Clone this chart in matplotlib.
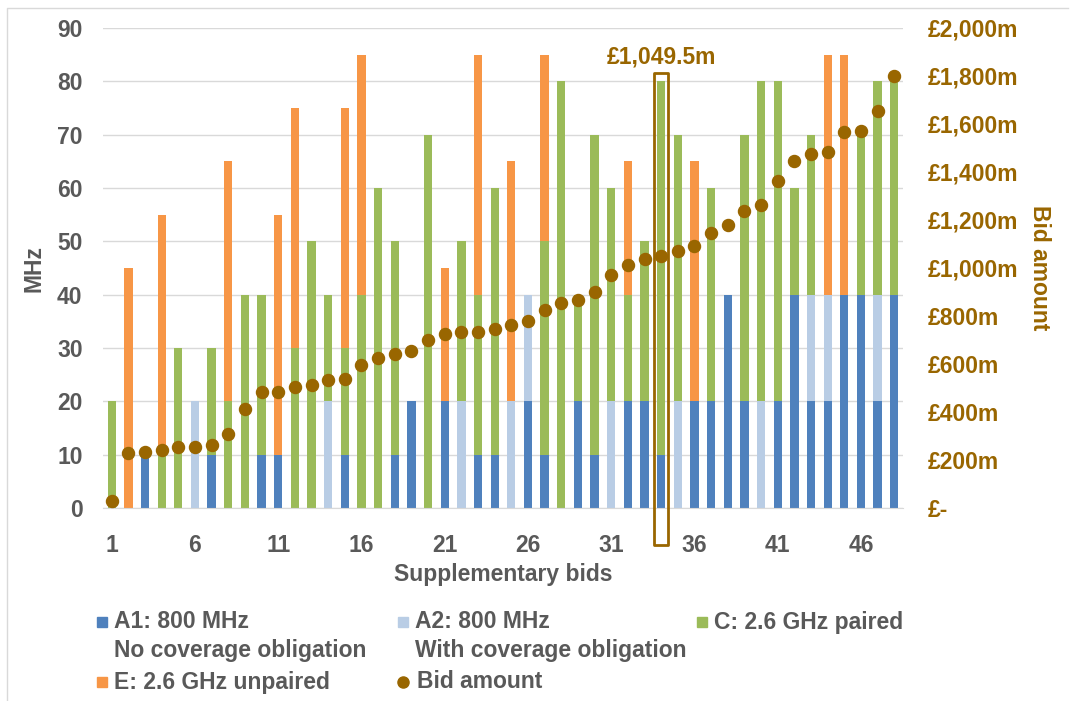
import matplotlib
matplotlib.use("Agg")
import matplotlib.pyplot as plt
import numpy as np
from matplotlib.patches import Rectangle
from matplotlib.lines import Line2D
from matplotlib.ticker import FuncFormatter, MultipleLocator

plt.rcParams["font.family"] = ["Liberation Sans", "DejaVu Sans"]
plt.rcParams["font.weight"] = "bold"

# Supplementary bids: MHz per lot category, bid amount in £m
bids = np.arange(1, 49)
a1_mhz = [0, 0, 10, 0, 0, 0, 10, 0, 0, 10, 10, 0, 0, 0, 10, 0, 0, 10, 20, 0, 20, 0, 10, 10,
          0, 20, 10, 0, 20, 10, 0, 20, 20, 10, 0, 20, 20, 40, 20, 0, 20, 40, 20, 20, 40, 40, 20, 40]
a2_mhz = [0, 0, 0, 0, 0, 20, 0, 0, 0, 0, 0, 0, 0, 20, 0, 0, 0, 0, 0, 0, 0, 20, 0, 0,
          20, 20, 0, 0, 0, 0, 20, 0, 0, 0, 20, 0, 0, 0, 0, 20, 0, 0, 20, 20, 0, 0, 20, 0]
c_mhz = [20, 0, 0, 10, 30, 0, 20, 20, 40, 30, 0, 30, 50, 20, 20, 40, 60, 40, 0, 70, 0, 30, 30, 50,
         0, 0, 40, 80, 20, 60, 40, 20, 30, 70, 50, 0, 40, 0, 50, 60, 60, 20, 30, 0, 0, 30, 40, 40]
e_mhz = [0, 45, 0, 45, 0, 0, 0, 45, 0, 0, 45, 45, 0, 0, 45, 45, 0, 0, 0, 0, 25, 0, 45, 0,
         45, 0, 35, 0, 0, 0, 0, 25, 0, 0, 0, 45, 0, 0, 0, 0, 0, 0, 0, 45, 45, 0, 0, 0]
bid_amount = [30, 229, 233, 243, 253, 255, 264, 308, 412, 482, 482, 503, 514, 535, 537, 597,
              625, 642, 653, 699, 726, 732, 733, 746, 764, 778, 826, 854, 868, 900, 972, 1011,
              1039, 1049.5, 1069, 1090, 1146, 1178, 1236, 1264, 1361, 1447, 1475, 1482, 1565,
              1569, 1653, 1799]
xtick_bids = [1, 6, 11, 16, 21, 26, 31, 36, 41, 46]
winning_bid = 34

series = [
    ("A1: 800 MHz\nNo coverage obligation", a1_mhz, "#4F81BD"),
    ("A2: 800 MHz\nWith coverage obligation", a2_mhz, "#B9CDE5"),
    ("C: 2.6 GHz paired", c_mhz, "#9BBB59"),
    ("E: 2.6 GHz unpaired", e_mhz, "#F79646"),
]
GREY = "#595959"
BROWN = "#996600"
FS = 16.5

W, H = 1070, 701
fig = plt.figure(figsize=(W / 100, H / 100), dpi=100)
ax = fig.add_axes([103.4 / W, 193 / H, 799.2 / W, 480 / H])

bottom = np.zeros(len(bids))
for nome, vals, cor in series:
    ax.bar(bids, vals, width=0.5, bottom=bottom, color=cor, zorder=2)
    bottom += np.array(vals)

ax.set_xlim(0.5, 48.5)
ax.set_ylim(0, 90)
ax.yaxis.set_major_locator(MultipleLocator(10))
ax.set_xticks(xtick_bids)
ax.grid(axis="y", color="#D9D9D9", linewidth=1)
ax.set_axisbelow(True)
for s in ["top", "right", "left"]:
    ax.spines[s].set_visible(False)
ax.spines["bottom"].set_color("#D9D9D9")
ax.tick_params(axis="both", length=0, labelsize=FS, labelcolor=GREY)
ax.tick_params(axis="y", pad=15)
ax.tick_params(axis="x", pad=19)
ax.set_ylabel("MHz", fontsize=FS, color=GREY, fontweight="bold", labelpad=8)
ax.set_xlabel("Supplementary bids", fontsize=FS, color=GREY, fontweight="bold", labelpad=4)

# eixo direito: valor do lance
ax2 = ax.twinx()
ax2.scatter(bids, bid_amount, s=75, color=BROWN, zorder=3, clip_on=False)
ax2.set_ylim(0, 2000)
ax2.yaxis.set_major_locator(MultipleLocator(200))
ax2.yaxis.set_major_formatter(FuncFormatter(lambda v, p: "£-" if v == 0 else f"£{v:,.0f}m"))
ax2.tick_params(axis="y", length=0, labelsize=FS, labelcolor=BROWN, pad=18)
for s in ax2.spines.values():
    s.set_visible(False)
ax2.set_ylabel("Bid amount", fontsize=FS, color=BROWN, fontweight="bold",
               rotation=270, labelpad=24)

# destaque do lance vencedor
ax.add_patch(Rectangle((winning_bid - 0.42, -6.9), 0.84, 81.6 + 6.9, fill=False,
                       edgecolor=BROWN, linewidth=2, joinstyle="round", clip_on=False, zorder=4))
ax.text(winning_bid, 84.6, f"£{bid_amount[winning_bid - 1]:,.1f}m", ha="center", va="center",
        fontsize=FS, color=BROWN, fontweight="bold")


# legenda desenhada à mão (marcador alinhado com a primeira linha)
def px(x, y):
    return x / W, 1 - y / H


legenda = [
    (97, 622, series[0]),
    (398, 622, series[1]),
    (697, 622, series[2]),
    (97, 682, series[3]),
]
for x, y, (nome, _, cor) in legenda:
    fx, fy = px(x, y + 5)
    fig.patches.append(Rectangle((fx, fy), 10 / W, 10 / H, transform=fig.transFigure,
                                 color=cor, figure=fig))
    for i, linha in enumerate(nome.split("\n")):
        fig.text(*px(x + 17, y + 28 * i), linha, fontsize=FS, color=GREY,
                 fontweight="bold", va="center", ha="left")

fig.add_artist(Line2D([px(403, 0)[0]], [px(0, 682)[1]], marker="o", markersize=8,
                      color=BROWN, linestyle="none", transform=fig.transFigure))
fig.text(*px(417, 682), "Bid amount", fontsize=FS, color=GREY, fontweight="bold",
         va="center", ha="left")

# borda da área do gráfico
fig.add_artist(Line2D([7 / W, 7 / W, 1068 / W], [0, 1 - 8 / H, 1 - 8 / H], color="#D9D9D9",
                      linewidth=1, transform=fig.transFigure))

fig.savefig("out.png", dpi=100)
